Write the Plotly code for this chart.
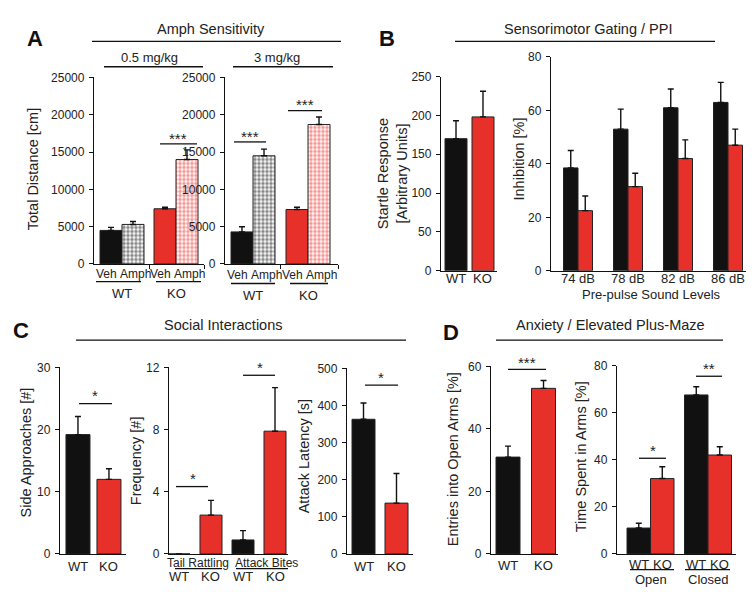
import plotly.graph_objects as go

W, H = 754, 592
RED = "#e8302a"
BLACK = "#111111"
FONT = "Liberation Sans, Arial, sans-serif"

# ---------------- data ----------------
# A: Amph sensitivity (Total distance, cm)
a_groups = ["WT", "KO"]
a_treat = ["Veh", "Amph"]
a05_veh = [4500, 7400]
a05_veh_err = [400, 200]
a05_amph = [5300, 14000]
a05_amph_err = [400, 1300]
a3_veh = [4300, 7300]
a3_veh_err = [700, 300]
a3_amph = [14500, 18700]
a3_amph_err = [900, 1000]

# B: startle & PPI
b_geno = ["WT", "KO"]
b_startle = [170, 198]
b_startle_err = [23, 33]
b_levels = ["74 dB", "78 dB", "82 dB", "86 dB"]
b_ppi_wt = [38.5, 53, 61, 63]
b_ppi_wt_err = [6.5, 7.5, 7, 7.5]
b_ppi_ko = [22.5, 31.5, 42, 47]
b_ppi_ko_err = [5.5, 5, 7, 6]

# C: social interactions
c_geno = ["WT", "KO"]
c_side = [19.2, 12]
c_side_err = [2.9, 1.7]
c_behav = ["Tail Rattling", "Attack Bites"]
c_freq_wt = [0, 0.9]
c_freq_wt_err = [0, 0.6]
c_freq_ko = [2.5, 7.9]
c_freq_ko_err = [0.95, 2.8]
c_latency = [363, 137]
c_latency_err = [44, 80]

# D: elevated plus maze
d_geno = ["WT", "KO"]
d_entries = [31, 53]
d_entries_err = [3.5, 2.5]
d_arms = ["Open", "Closed"]
d_time_wt = [11, 67.5]
d_time_wt_err = [2, 3.5]
d_time_ko = [32, 42]
d_time_ko_err = [5, 3.5]

# ---------------- helpers ----------------
def X(px):
    return px / W

def Y(py):
    return 1 - py / H

fig = go.Figure()
layout = {}
annotations = []
shapes = []
ROT_FIX = 7  # compensation for rotated annotation placement

def add_axes(n, x0, x1, ytop, ybot, xr, yr, ytick, xticks=None, tsize=12):
    xa = "xaxis" if n == 1 else f"xaxis{n}"
    ya = "yaxis" if n == 1 else f"yaxis{n}"
    layout[xa] = dict(domain=[X(x0), X(x1)], range=xr, anchor=f"y{n}",
                      showline=True, linecolor=BLACK, linewidth=1.3,
                      showgrid=False, zeroline=False,
                      tickmode="array", tickvals=xticks or [], ticktext=[""] * len(xticks or []),
                      ticks="outside" if xticks else "", ticklen=4, tickcolor=BLACK,
                      fixedrange=True)
    layout[ya] = dict(domain=[Y(ybot), Y(ytop)], range=yr, anchor=f"x{n}",
                      showline=True, linecolor=BLACK, linewidth=1.3,
                      showgrid=False, zeroline=False, tickmode="linear", tick0=0, dtick=ytick,
                      ticks="outside", ticklen=4, tickcolor=BLACK, tickwidth=1.2,
                      exponentformat="none", separatethousands=False, tickformat="d",
                      tickfont=dict(size=tsize, color="#222", family=FONT), ticklabelstandoff=2,
                      fixedrange=True)

def bar(n, xs, ys, errs, color, width, offset, pattern=None):
    marker = dict(color=color, line=dict(color="#222", width=1))
    if pattern is not None:
        marker["color"] = "white"
        marker["pattern"] = dict(shape=".", fgcolor=pattern, bgcolor="white",
                                 size=4, solidity=0.62, fillmode="overlay")
    fig.add_trace(go.Bar(
        x=xs, y=ys, width=width, offset=offset, marker=marker,
        error_y=dict(type="data", symmetric=False, array=errs, arrayminus=[0] * len(errs),
                     color=BLACK, thickness=1.4, width=3),
        xaxis=f"x{n}", yaxis=f"y{n}", showlegend=False, hoverinfo="skip"))

def txt(x, y, s, size=13, xref="paper", **kw):
    d = dict(x=x, y=y, xref=xref, yref="paper", text=s, showarrow=False,
             font=dict(size=size, color="#222", family=FONT),
             xanchor="center", yanchor="middle", borderpad=0)
    d.update(kw)
    annotations.append(d)

def hline(x0, x1, py, xref="paper", w=1.3):
    shapes.append(dict(type="line", xref=xref, yref="paper", x0=x0, x1=x1, y0=Y(py), y1=Y(py),
                       line=dict(color=BLACK, width=w)))

def vtitle(px, py, s, size=14):
    annotations.append(dict(x=X(px - ROT_FIX), y=Y(py), xref="paper", yref="paper", text=s,
                            showarrow=False, textangle=-90, borderpad=0,
                            font=dict(size=size, color="#222", family=FONT),
                            xanchor="center", yanchor="middle"))

def letter(px, py, s):
    annotations.append(dict(x=X(px), y=Y(py), xref="paper", yref="paper", text=f"<b>{s}</b>",
                            showarrow=False, font=dict(size=22, color="#111", family=FONT),
                            xanchor="center", yanchor="middle"))

idx2 = [0, 1]
GEN_COLORS = [BLACK, RED]

# ---------------- Panel A ----------------
add_axes(1, 86, 196, 64, 255, [-0.5185, 1.5185], [0, 25000], 5000, xticks=[0.5, 1.5185])
bw = 22 / 54
bar(1, idx2, a05_veh, a05_veh_err, GEN_COLORS, bw, -bw)
bar(1, idx2, a05_amph, a05_amph_err, None, bw, 0, pattern=GEN_COLORS)
add_axes(2, 217, 330, 64, 255, [-0.509, 1.545], [0, 25000], 5000, xticks=[0.5, 1.545])
bw2 = 22 / 55
bar(2, idx2, a3_veh, a3_veh_err, GEN_COLORS, bw2, -bw2)
bar(2, idx2, a3_amph, a3_amph_err, None, bw2, 0, pattern=GEN_COLORS)

for i, g in enumerate(a_groups):
    for ax, yl in (("x1", 265), ("x2", 266)):
        txt(i, Y(yl), a_treat[0], xref=ax, xanchor="right", xshift=-4, size=12)
        txt(i, Y(yl), a_treat[1], xref=ax, xanchor="left", xshift=-3, size=12)
    txt(i, Y(285), g, xref="x1")
    txt(i, Y(287), g, xref="x2")
hline(X(88), X(133), 273)
hline(X(148), X(193), 273)
hline(X(223), X(267), 275)
hline(X(282), X(320), 275)
# significance
hline(X(152), X(189), 132)
txt(X(170), Y(126), "***", size=15)
hline(X(226), X(258), 130)
txt(X(242), Y(124), "***", size=15)
hline(X(280), X(314), 98)
txt(X(297), Y(92), "***", size=15)
# headers
txt(X(203), Y(14), "Amph Sensitivity", size=14.5)
hline(X(84), X(333), 27)
txt(X(141), Y(44), "0.5 mg/kg", size=13)
hline(X(96), X(195), 53)
txt(X(269), Y(44), "3 mg/kg", size=13)
hline(X(225), X(325), 53)
vtitle(32, 158, "Total Distance [cm]", size=14.5)
letter(27, 24, "A")

# ---------------- Panel B ----------------
add_axes(3, 433, 489, 63, 262, [-0.556, 1.519], [0, 250], 50)
bar(3, idx2, b_startle, b_startle_err, GEN_COLORS, 22 / 27, -11 / 27)
for i, g in enumerate(b_geno):
    txt(i, Y(270), g, xref="x3")
vtitle(391, 163, "Startle Response<br>[Arbitrary Units]", size=14.5)

idx4 = [0, 1, 2, 3]
add_axes(4, 543, 740, 43, 262, [-0.54, 3.4], [0, 80], 20)
bw4 = 14.5 / 50
bar(4, idx4, b_ppi_wt, b_ppi_wt_err, BLACK, bw4, -bw4)
bar(4, idx4, b_ppi_ko, b_ppi_ko_err, RED, bw4, 0)
for i, lv in enumerate(b_levels):
    txt(i, Y(270), lv, xref="x4")
txt(X(643), Y(286), "Pre-pulse Sound Levels", size=13)
vtitle(517, 148, "Inhibition [%]", size=14.5)
txt(X(580), Y(14), "Sensorimotor Gating / PPI", size=14.5)
hline(X(447), X(707), 27)
letter(379, 24, "B")

# ---------------- Panel C ----------------
add_axes(5, 52, 118, 361, 552, [-0.58, 1.55], [0, 30], 10)
bar(5, idx2, c_side, c_side_err, GEN_COLORS, 24 / 31, -12 / 31)
for i, g in enumerate(c_geno):
    txt(i, Y(565), g, xref="x5")
hline(X(71), X(104), 398)
txt(X(87), Y(390), "*", size=15)
vtitle(25, 448, "Side Approaches [#]", size=14.5)

add_axes(6, 161, 280, 361, 552, [-0.406, 1.453], [0, 12], 4)
bw6 = 22 / 64
bar(6, idx2, c_freq_wt, c_freq_wt_err, BLACK, bw6, -27 / 64)
bar(6, idx2, c_freq_ko, c_freq_ko_err, RED, bw6, 5 / 64)
for i, b in enumerate(c_behav):
    txt(i, Y(561), b, xref="x6", size=12, xshift=3 + 4 * i)
    txt(i - 16 / 64, Y(575), c_geno[0], xref="x6")
    txt(i + 16 / 64, Y(575), c_geno[1], xref="x6")
hline(X(167), X(214), 567)
hline(X(228), X(280), 567)
hline(X(168), X(200), 483)
txt(X(185), Y(475), "*", size=15)
hline(X(235), X(267), 369)
txt(X(252), Y(361), "*", size=15)
vtitle(135, 457, "Frequency [#]", size=14.5)

add_axes(7, 339, 405, 362, 552, [-0.5, 1.5], [0, 500], 100)
bar(7, idx2, c_latency, c_latency_err, GEN_COLORS, 23 / 33, -11.5 / 33)
for i, g in enumerate(c_geno):
    txt(i, Y(565), g, xref="x7")
hline(X(357), X(390), 379)
txt(X(373), Y(371), "*", size=15)
vtitle(303, 452, "Attack Latency [s]", size=14.5)
txt(X(215), Y(318), "Social Interactions", size=14.5)
hline(X(68), X(398), 333)
letter(13, 323, "C")

# ---------------- Panel D ----------------
add_axes(8, 483, 550, 360, 552, [-0.479, 1.408], [0, 60], 20)
bar(8, idx2, d_entries, d_entries_err, GEN_COLORS, 24 / 35.5, -12 / 35.5)
for i, g in enumerate(d_geno):
    txt(i, Y(564), g, xref="x8")
hline(X(500), X(538), 363)
txt(X(519), Y(356), "***", size=15)
vtitle(452, 455, "Entries into Open Arms [%]", size=14.5)

add_axes(9, 609, 728, 359, 552, [-0.583, 1.487], [0, 80], 20)
bw9 = 23.5 / 57.5
bar(9, idx2, d_time_wt, d_time_wt_err, BLACK, bw9, -bw9)
bar(9, idx2, d_time_ko, d_time_ko_err, RED, bw9, 0)
for i, a in enumerate(d_arms):
    txt(i - bw9 / 2, Y(563), d_geno[0], xref="x9")
    txt(i + bw9 / 2, Y(563), d_geno[1], xref="x9")
    txt(i, Y(578), a, xref="x9")
hline(X(622), X(666), 568)
hline(X(677), X(722), 568)
hline(X(631), X(658), 454)
txt(X(645), Y(446), "*", size=15)
hline(X(688), X(714), 370)
txt(X(701), Y(362), "**", size=15)
vtitle(580, 453, "Time Spent in Arms [%]", size=14.5)
txt(X(602), Y(318), "Anxiety / Elevated Plus-Maze", size=14.5)
hline(X(488), X(715), 333)
letter(443, 325, "D")

fig.update_layout(**layout)
fig.update_layout(width=W, height=H, margin=dict(l=0, r=0, t=0, b=0),
                  paper_bgcolor="white", plot_bgcolor="white",
                  barmode="overlay", annotations=annotations, shapes=shapes,
                  font=dict(family=FONT, color="#222"))
fig.write_html("out.html", config={"displayModeBar": False})
